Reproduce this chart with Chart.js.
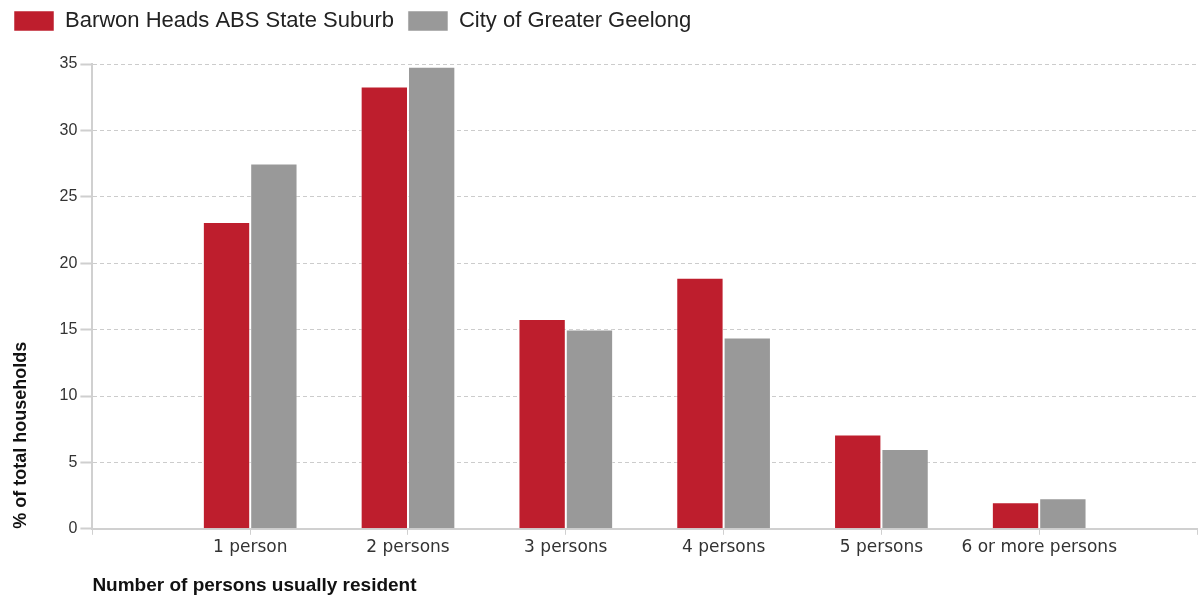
<!DOCTYPE html>
<html>
<head>
<meta charset="utf-8">
<script src="https://cdn.jsdelivr.net/npm/chart.js@4.4.0/dist/chart.umd.min.js"></script>
<style>
  html, body { margin: 0; padding: 0; background: #fff; }
  #wrap { width: 1200px; height: 597px; }
</style>
</head>
<body>
<div id="wrap"><canvas id="householdChart"></canvas></div>
<script>
// empty slots at both ends so the categories sit like the original
const categories = ["", "1 person", "2 persons", "3 persons", "4 persons", "5 persons", "6 or more persons", ""];
const barwonHeads = [null, 23.1, 33.3, 15.8, 18.9, 7.1, 2.0, null];
const geelong = [null, 27.5, 34.8, 15.0, 14.4, 6.0, 2.3, null];
const yTicks = [0, 5, 10, 15, 20, 25, 30, 35];

const fontFamily = "'Liberation Sans', Arial, sans-serif";

// push the plot down a bit below the legend
const legendGap = {
  id: "legendGap",
  beforeInit(chart) {
    const fit = chart.legend.fit;
    chart.legend.fit = function () {
      fit.bind(chart.legend)();
      this.height += 22;
    };
  },
};

new Chart(document.getElementById("householdChart"), {
  type: "bar",
  data: {
    labels: categories,
    datasets: [
      {
        label: "Barwon Heads ABS State Suburb",
        data: barwonHeads,
        backgroundColor: "#be1e2d",
        borderColor: "rgba(255,255,255,0.5)",
        borderWidth: 1,
      },
      {
        label: "City of Greater Geelong",
        data: geelong,
        backgroundColor: "#999999",
        borderColor: "rgba(255,255,255,0.5)",
        borderWidth: 1,
      },
    ],
  },
  options: {
    responsive: true,
    maintainAspectRatio: false,
    animation: false,
    layout: { padding: { left: 0, right: -4, top: -4, bottom: 0 } },
    datasets: {
      bar: { categoryPercentage: 0.6, barPercentage: 1 },
    },
    plugins: {
      legend: {
        position: "top",
        align: "start",
        labels: {
          boxWidth: 40,
          boxHeight: 20,
          padding: 14,
          color: "#222",
          font: { family: fontFamily, size: 22 },
        },
      },
      tooltip: { enabled: false },
    },
    scales: {
      x: {
        offset: false,
        grid: { offset: false, drawOnChartArea: false, drawTicks: true, tickLength: 6, color: "#d0d0d0" },
        border: { display: true, color: "#d0d0d0", width: 2 },
        ticks: {
          color: "#333",
          maxRotation: 0,
          autoSkip: false,
          font: { family: "'DejaVu Sans', Verdana, sans-serif", size: 17 },
          padding: 3,
        },
        title: {
          display: true,
          text: "Number of persons usually resident",
          align: "start",
          color: "#111",
          font: { family: fontFamily, size: 19, weight: "bold" },
          padding: { top: 13, bottom: 0 },
        },
      },
      y: {
        min: 0,
        max: 35,
        afterBuildTicks: (axis) => {
          axis.ticks = yTicks.map((v) => ({ value: v }));
        },
        grid: {
          color: "#cccccc",
          tickLength: 12,
          tickBorderDash: [0, 0],
          tickColor: "#cfcfcf",
          tickWidth: 2,
        },
        border: { display: true, color: "#d0d0d0", width: 2, dash: [4, 3] },
        ticks: {
          color: "#333",
          font: { family: fontFamily, size: 16 },
          padding: 3,
        },
        title: {
          display: true,
          text: "% of total households",
          align: "start",
          color: "#111",
          font: { family: fontFamily, size: 18, weight: "bold" },
          padding: { top: 10, bottom: 25 },
        },
      },
    },
  },
  plugins: [legendGap],
});
</script>
</body>
</html>
